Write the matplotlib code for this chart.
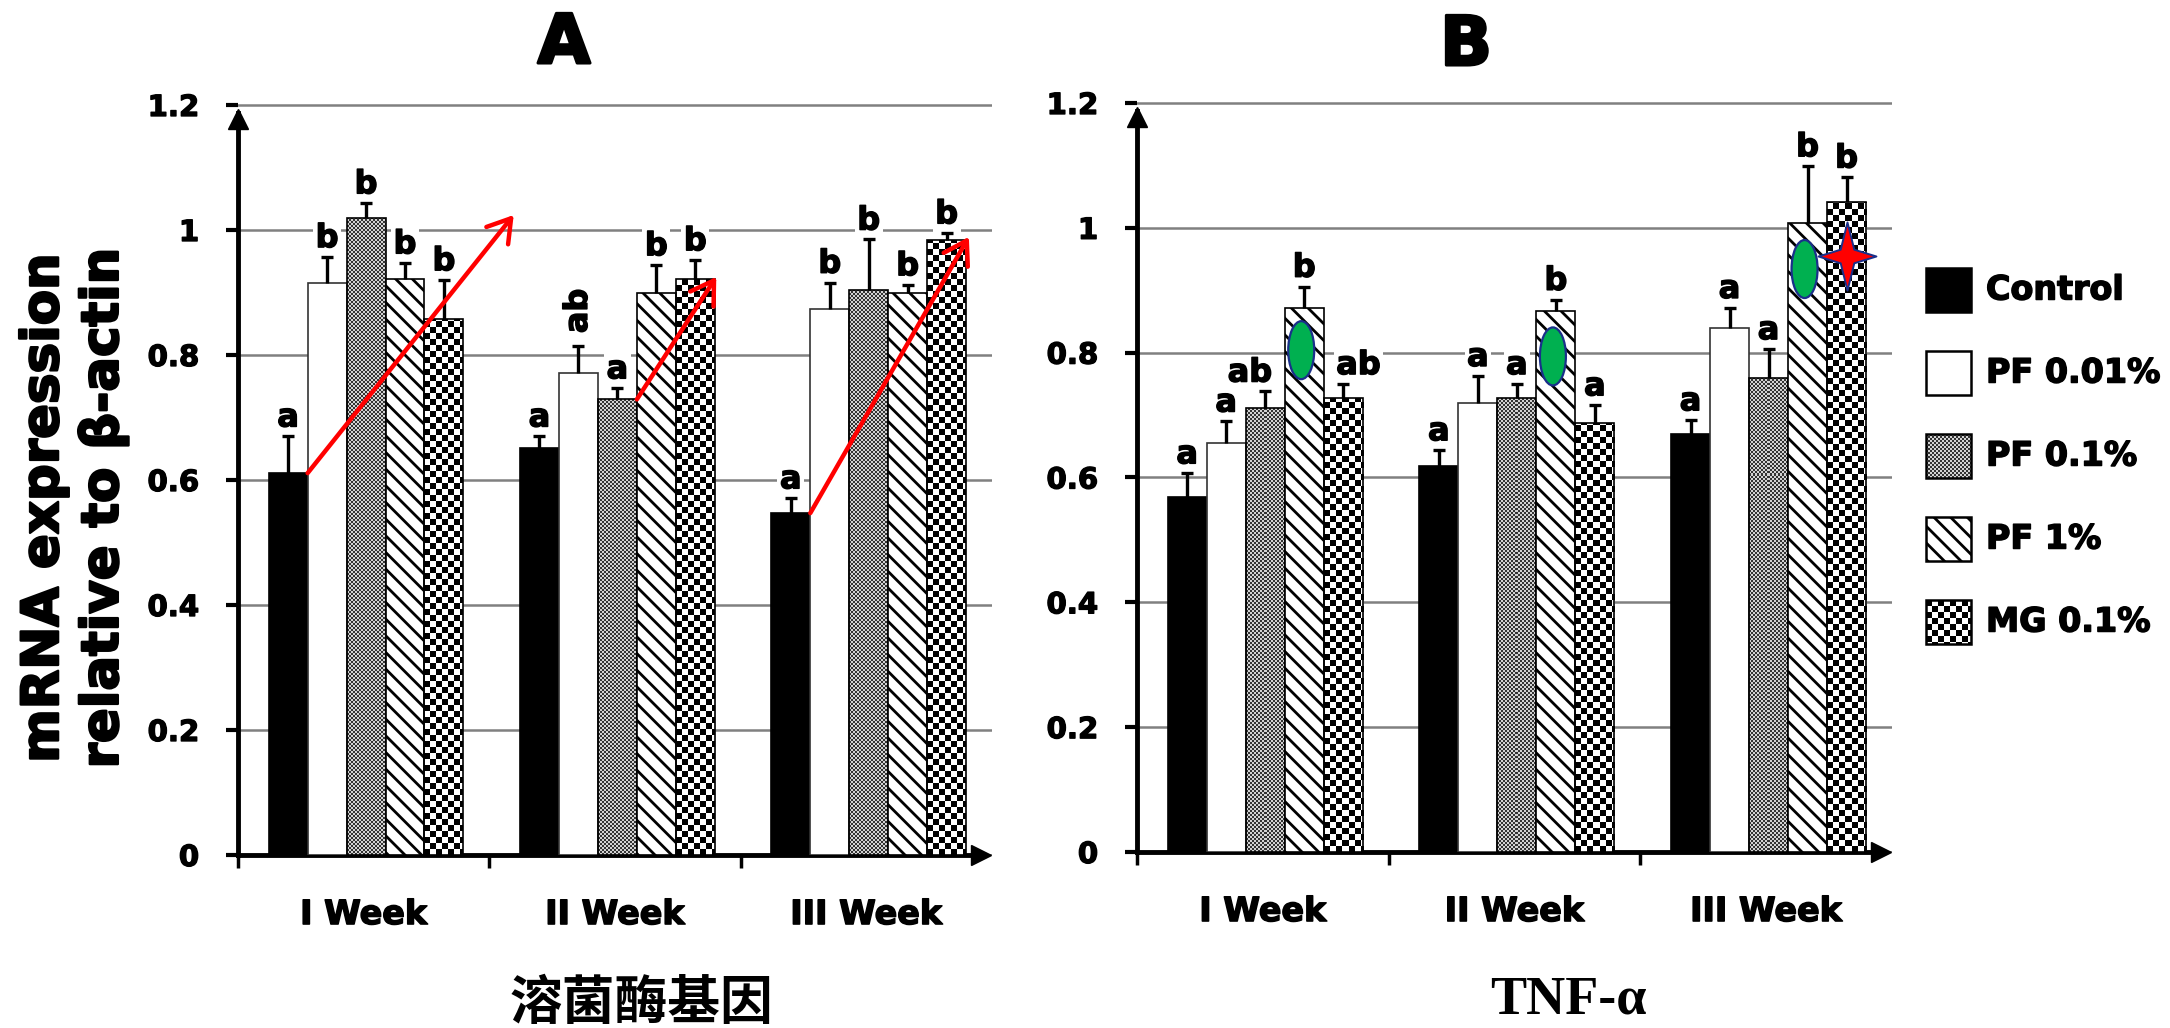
import numpy as np
import matplotlib
matplotlib.use("Agg")
import matplotlib.pyplot as plt
from matplotlib.colors import ListedColormap
from matplotlib.patches import Rectangle, Ellipse
from matplotlib.path import Path
from matplotlib import patheffects as pe

plt.rcParams['font.family'] = ['DejaVu Sans']
plt.rcParams['font.weight'] = 'bold'
plt.rcParams['hatch.linewidth'] = 2.0
plt.rcParams['hatch.color'] = 'black'

# ---------------- data ----------------
weeks = ["I Week", "II Week", "III Week"]
treatments = ["Control", "PF 0.01%", "PF 0.1%", "PF 1%", "MG 0.1%"]
ytick_values = [0, 0.2, 0.4, 0.6, 0.8, 1.0, 1.2]
ytick_labels = ["0", "0.2", "0.4", "0.6", "0.8", "1", "1.2"]

# Panel A - 溶菌酶基因 (one value per week)
A_control = [0.611, 0.651, 0.547]
A_pf001 = [0.915, 0.771, 0.873]
A_pf01 = [1.020, 0.729, 0.904]
A_pf1 = [0.921, 0.900, 0.900]
A_mg = [0.857, 0.921, 0.984]
A_control_err = [0.059, 0.019, 0.024]
A_pf001_err = [0.042, 0.044, 0.043]
A_pf01_err = [0.023, 0.018, 0.081]
A_pf1_err = [0.026, 0.044, 0.012]
A_mg_err = [0.063, 0.031, 0.011]
A_control_sig = ["a", "a", "a"]
A_pf001_sig = ["b", "ab", "b"]
A_pf01_sig = ["b", "a", "b"]
A_pf1_sig = ["b", "b", "b"]
A_mg_sig = ["b", "b", "b"]

# Panel B - TNF-α
B_control = [0.569, 0.619, 0.670]
B_pf001 = [0.656, 0.719, 0.839]
B_pf01 = [0.711, 0.727, 0.760]
B_pf1 = [0.871, 0.867, 1.007]
B_mg = [0.727, 0.688, 1.042]
B_control_err = [0.038, 0.025, 0.022]
B_pf001_err = [0.034, 0.044, 0.033]
B_pf01_err = [0.027, 0.023, 0.046]
B_pf1_err = [0.035, 0.018, 0.092]
B_mg_err = [0.023, 0.028, 0.039]
B_control_sig = ["a", "a", "a"]
B_pf001_sig = ["a", "a", "a"]
B_pf01_sig = ["ab", "a", "a"]
B_pf1_sig = ["b", "b", "b"]
B_mg_sig = ["ab", "a", "b"]

# red trend arrows in panel A: start at top-right corner of a bar, end at a point
arrow_start_week = [0, 1, 2]
arrow_start_treat = [0, 2, 0]
arrow_end_x = [1.097, 1.903, 2.908]
arrow_end_y = [1.024, 0.925, 0.989]

# markers in panel B
ellipse_weeks = [0, 1, 2]      # on the PF 1% bars
ellipse_y = [0.804, 0.794, 0.934]
star_week = 2                  # on the MG 0.1% bar
star_y = 0.955

# ---------------- style ----------------
FIG_W, FIG_H, DPI = 2170, 1028, 100
Y_TOP = 1.21
BAR_OFF, BAR_W = 0.122, 0.155
STYLES = [
    dict(kind='solid', fc='black', ec='black'),
    dict(kind='solid', fc='white', ec='#333333'),
    dict(kind='checker', cell=2, colors=['#333333', '#d2d2d2']),
    dict(kind='hatch', hatch='\\\\'),
    dict(kind='checker', cell=6, colors=['black', 'white']),
]
EDGE = '#1a2f8a'


def heavy(fs):
    return [pe.withStroke(linewidth=fs * 0.045, foreground='black')]


fig = plt.figure(figsize=(FIG_W / DPI, FIG_H / DPI), dpi=DPI)
fig.patch.set_facecolor('white')


def make_axes(left, right, y0px, y12px):
    ppy = (y0px - y12px) / 1.2
    top = y0px - ppy * Y_TOP
    ax = fig.add_axes([left / FIG_W, 1 - y0px / FIG_H,
                       (right - left) / FIG_W, (y0px - top) / FIG_H])
    return ax, (right - left) / 3.0, ppy


def checker_image(ax, extent, nx, ny, colors, clip, zorder):
    arr = np.indices((ny, nx)).sum(axis=0) % 2
    im = ax.imshow(arr, cmap=ListedColormap(colors), vmin=0, vmax=1,
                   extent=extent, origin='lower', interpolation='nearest',
                   aspect='auto', zorder=zorder)
    im.set_clip_path(clip)
    return im


def style_axes(ax, ppx, ppy):
    ax.set_xlim(0, 3)
    ax.set_ylim(0, Y_TOP)
    for s in ('top', 'right'):
        ax.spines[s].set_visible(False)
    for s in ('left', 'bottom'):
        ax.spines[s].set_linewidth(3.5)
    ax.spines['left'].set_bounds(0, 1.2 - 8 / ppy)
    ax.spines['bottom'].set_bounds(0, 3 - 8 / ppx)
    ax.set_yticks(ytick_values, ytick_labels)
    ax.set_xticks([0, 1, 2], ['', '', ''])
    ax.set_xticks([0.5, 1.5, 2.5], weeks, minor=True)
    ax.tick_params(axis='y', direction='out', length=9, width=3, pad=19,
                   labelsize=21)
    ax.tick_params(axis='x', which='major', direction='out', length=9, width=2.5)
    ax.tick_params(axis='x', which='minor', length=0, pad=31, labelsize=24)
    for t in ax.get_yticklabels():
        t.set_fontweight('bold')
        t.set_path_effects(heavy(21))
    for t in ax.get_xticklabels(minor=True):
        t.set_fontweight('bold')
        t.set_path_effects(heavy(24))
    ax.yaxis.grid(True, color='#808080', linewidth=1.8)
    ax.set_axisbelow(True)
    # axis arrowheads
    ax.plot([0], [1.2 - 14 / ppy], marker='^', ms=15, color='black',
            clip_on=False, zorder=8)
    ax.plot([3 - 11 / ppx], [0], marker='>', ms=15, color='black',
            clip_on=False, zorder=8)


def draw_panel(ax, ppx, ppy, means, errs, sigs, sig_shift, rotated):
    centers_all = []
    for j in range(5):
        m = np.asarray(means[j], dtype=float)
        e = np.asarray(errs[j], dtype=float)
        left = np.arange(3) + BAR_OFF + j * BAR_W
        st = STYLES[j]
        if st['kind'] == 'solid':
            bars = ax.bar(left, m, BAR_W, align='edge', facecolor=st['fc'],
                          edgecolor=st['ec'], linewidth=1.2, zorder=3,
                          label=treatments[j])
        elif st['kind'] == 'hatch':
            bars = ax.bar(left, m, BAR_W, align='edge', facecolor='white',
                          edgecolor='black', hatch=st['hatch'], linewidth=1.2,
                          zorder=3, label=treatments[j])
        else:
            bars = ax.bar(left, m, BAR_W, align='edge', facecolor='none',
                          edgecolor='black', linewidth=1.2, zorder=3,
                          label=treatments[j])
            for b in bars:
                c = st['cell']
                nx = int(np.ceil(b.get_width() * ppx / c)) + 1
                ny = int(np.ceil(b.get_height() * ppy / c)) + 1
                ext = (b.get_x(), b.get_x() + nx * c / ppx, 0, ny * c / ppy)
                checker_image(ax, ext, nx, ny, st['colors'], b, 2.9)
        centers = left + BAR_W / 2
        centers_all.append(centers)
        eb = ax.errorbar(centers, m, yerr=[np.zeros_like(e), e], fmt='none',
                         ecolor='black', elinewidth=2.4, capsize=4.3,
                         capthick=2.4, zorder=4)
        for cl in eb[1]:
            if np.allclose(cl.get_ydata(), m):
                cl.set_visible(False)
        for k in range(3):
            dx = sig_shift.get((k, j), 0)
            rot = 90 if (k, j) in rotated else 0
            dy = 9 if rot else 2
            ax.annotate(sigs[j][k], xy=(centers[k], m[k] + e[k]),
                        xytext=(dx, dy), textcoords='offset points',
                        ha='center', va='bottom', fontsize=23,
                        fontweight='bold', rotation=rot, zorder=2.5,
                        bbox=dict(boxstyle='square,pad=0.08', fc='white',
                                  ec='none'),
                        path_effects=heavy(23),
                        annotation_clip=False)
    return centers_all


# ---------------- panel A ----------------
axA, ppxA, ppyA = make_axes(238, 992, 855, 105)
A_means = [A_control, A_pf001, A_pf01, A_pf1, A_mg]
A_errs = [A_control_err, A_pf001_err, A_pf01_err, A_pf1_err, A_mg_err]
A_sigs = [A_control_sig, A_pf001_sig, A_pf01_sig, A_pf1_sig, A_mg_sig]
draw_panel(axA, ppxA, ppyA, A_means, A_errs, A_sigs, {}, {(1, 1)})
style_axes(axA, ppxA, ppyA)
for wk, tr, ex, ey in zip(arrow_start_week, arrow_start_treat, arrow_end_x, arrow_end_y):
    sx = wk + BAR_OFF + (tr + 1) * BAR_W
    sy = A_means[tr][wk]
    axA.annotate('', xy=(ex, ey), xytext=(sx, sy),
                 arrowprops=dict(arrowstyle='->,head_length=0.4,head_width=0.25',
                                 color='#ff0000', lw=3.2, mutation_scale=40,
                                 shrinkA=0, shrinkB=0),
                 zorder=7, annotation_clip=False)

# ---------------- panel B ----------------
axB, ppxB, ppyB = make_axes(1137, 1892, 852, 103)
B_means = [B_control, B_pf001, B_pf01, B_pf1, B_mg]
B_errs = [B_control_err, B_pf001_err, B_pf01_err, B_pf1_err, B_mg_err]
B_sigs = [B_control_sig, B_pf001_sig, B_pf01_sig, B_pf1_sig, B_mg_sig]
centersB = draw_panel(axB, ppxB, ppyB, B_means, B_errs, B_sigs,
                      {(0, 2): -11, (0, 4): 11}, set())
style_axes(axB, ppxB, ppyB)
for wk, ey in zip(ellipse_weeks, ellipse_y):
    axB.add_patch(Ellipse((centersB[3][wk] - 3 / ppxB, ey), width=26 / ppxB,
                          height=58 / ppyB, facecolor='#00b050',
                          edgecolor=EDGE, linewidth=1.6, zorder=6))
star_verts = [(0, 1), (0.2, 0.2), (0.85, 0), (0.2, -0.2), (0, -1),
              (-0.2, -0.2), (-0.85, 0), (-0.2, 0.2), (0, 1)]
star_path = Path(star_verts, [Path.MOVETO] + [Path.LINETO] * 7 + [Path.CLOSEPOLY])
axB.plot([centersB[4][star_week]], [star_y], marker=star_path, ms=49,
         markerfacecolor='#ff0000', markeredgecolor=EDGE, markeredgewidth=1.4,
         linestyle='none', zorder=7, clip_on=False)

# ---------------- texts ----------------
fig.text(74 / FIG_W, 1 - 508 / FIG_H, 'mRNA expression\nrelative to β-actin',
         rotation=90, ha='center', va='center', fontsize=37,
         fontweight='bold', linespacing=1.25, multialignment='center',
         path_effects=heavy(37))
fig.text(564 / FIG_W, 1 - 63 / FIG_H, 'A', ha='center', va='baseline',
         fontsize=49, fontweight='bold', path_effects=heavy(49))
fig.text(1466 / FIG_W, 1 - 65 / FIG_H, 'B', ha='center', va='baseline',
         fontsize=49, fontweight='bold', path_effects=heavy(49))
fig.text(641 / FIG_W, 1 - 1019 / FIG_H, '溶菌酶基因', ha='center', va='baseline',
         fontsize=38, fontweight='bold',
         family=['Noto Sans CJK SC', 'DejaVu Sans'])
fig.text(1568 / FIG_W, 1 - 1014 / FIG_H, 'TNF-α', ha='center', va='baseline',
         fontsize=39, fontweight='bold',
         family=['Liberation Serif', 'DejaVu Serif'])

# ---------------- legend (drawn in pixel space) ----------------
lax = fig.add_axes([0, 0, 1, 1], zorder=5)
lax.set_xlim(0, FIG_W)
lax.set_ylim(FIG_H, 0)
lax.axis('off')
lax.patch.set_alpha(0)
LEG_X, LEG_Y0, LEG_STEP, BOX_W, BOX_H = 1926, 290, 83, 45, 44
for j, name in enumerate(treatments):
    yc = LEG_Y0 + j * LEG_STEP
    st = STYLES[j]
    x0, y0 = LEG_X, yc - BOX_H / 2
    if st['kind'] == 'solid':
        r = Rectangle((x0, y0), BOX_W, BOX_H, facecolor=st['fc'],
                      edgecolor='black', linewidth=1.8, zorder=3)
    elif st['kind'] == 'hatch':
        r = Rectangle((x0, y0), BOX_W, BOX_H, facecolor='white',
                      edgecolor='black', hatch=st['hatch'], linewidth=1.8, zorder=3)
    else:
        r = Rectangle((x0, y0), BOX_W, BOX_H, facecolor='none',
                      edgecolor='black', linewidth=1.8, zorder=3)
    lax.add_patch(r)
    if st['kind'] == 'checker':
        c = st['cell']
        nx = int(np.ceil(BOX_W / c)) + 1
        ny = int(np.ceil(BOX_H / c)) + 1
        checker_image(lax, (x0, x0 + nx * c, y0, y0 + ny * c), nx, ny,
                      st['colors'], r, 2.9)
    lax.text(1986, yc, name, ha='left', va='center', fontsize=24,
             fontweight='bold', path_effects=heavy(24))
lax.set_xlim(0, FIG_W)
lax.set_ylim(FIG_H, 0)

fig.savefig('out.png', dpi=DPI, facecolor='white')
